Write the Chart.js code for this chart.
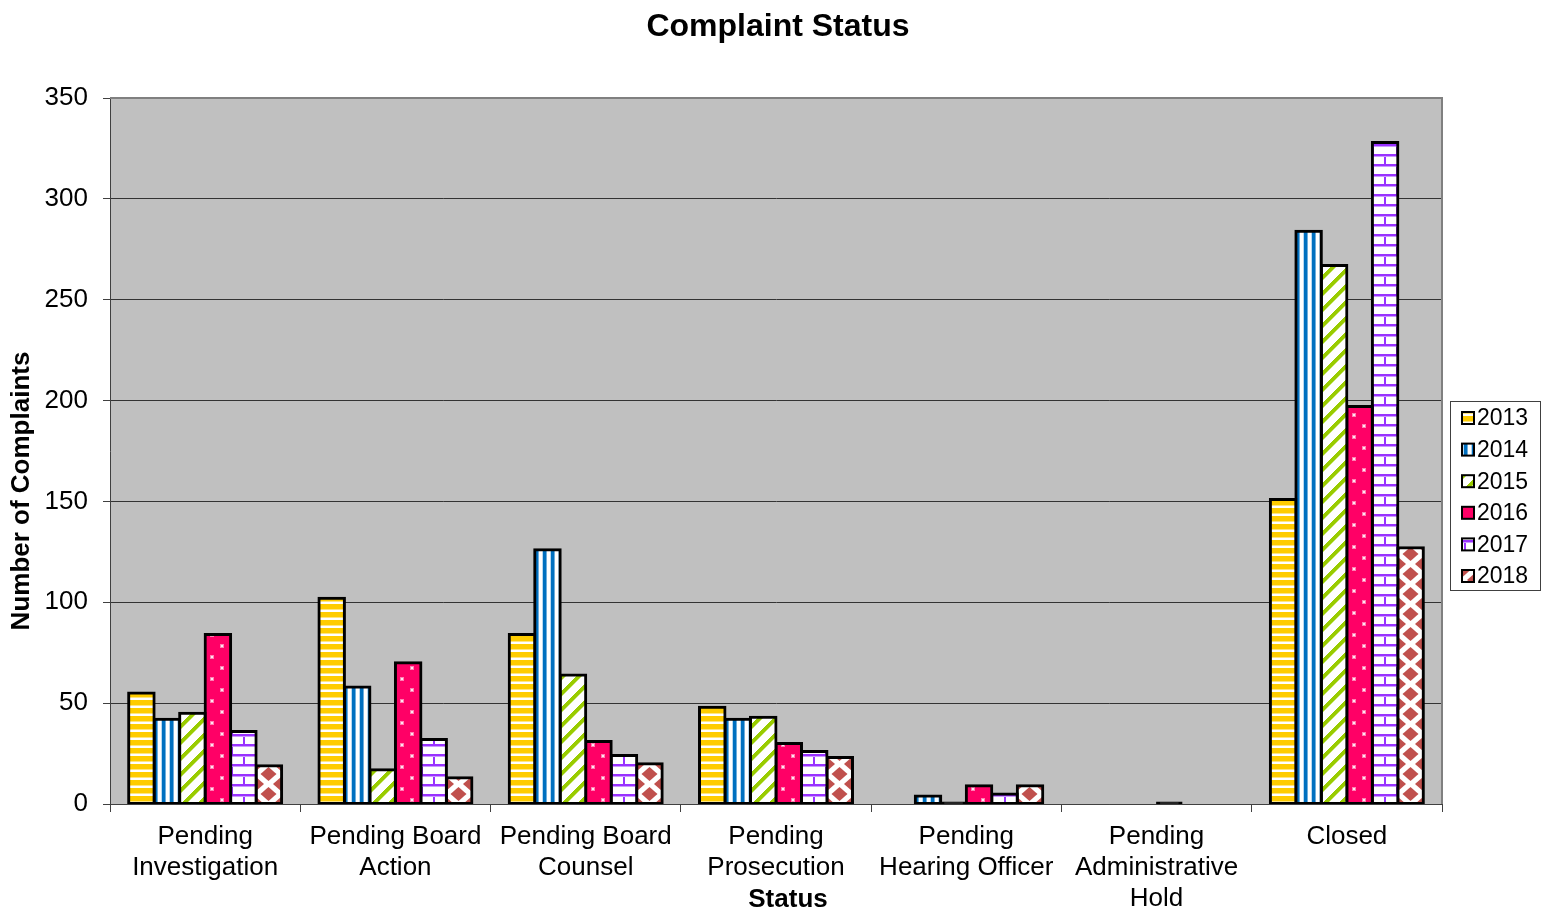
<!DOCTYPE html>
<html>
<head>
<meta charset="utf-8">
<title>Complaint Status</title>
<script src="https://cdn.jsdelivr.net/npm/chart.js@4"></script>
<style>
  html, body { margin: 0; padding: 0; background: #fff; }
  canvas { display: block; }
</style>
</head>
<body>
<canvas id="statusChart" width="1548" height="913"></canvas>
<script>
// Chart data
const categories = [
  ["Pending", "Investigation"],
  ["Pending Board", "Action"],
  ["Pending Board", "Counsel"],
  ["Pending", "Prosecution"],
  ["Pending", "Hearing Officer"],
  ["Pending", "Administrative", "Hold"],
  "Closed"
];
const years = ["2013", "2014", "2015", "2016", "2017", "2018"];
const values2013 = [55, 102, 84, 48, 0, 0, 151];
const values2014 = [42, 58, 126, 42, 4, 0, 284];
const values2015 = [45, 17, 64, 43, 1, 0, 267];
const values2016 = [84, 70, 31, 30, 9, 1, 197];
const values2017 = [36, 32, 24, 26, 5, 0, 328];
const values2018 = [19, 13, 20, 23, 9, 0, 127];
const yTicks = [0, 50, 100, 150, 200, 250, 300, 350];

const FONT = "'Liberation Sans', Arial, sans-serif";
Chart.defaults.font.family = FONT;
Chart.defaults.color = "#000";

const CAT_PCT = 0.804;

// Small canvases used as fill patterns
function makeTile(w, h, draw) {
    const c = document.createElement("canvas");
    c.width = w;
    c.height = h;
    const g = c.getContext("2d");
    g.fillStyle = "#fff";
    g.fillRect(0, 0, w, h);
    draw(g, w, h);
    return c;
}

const tiles = [
    // 2013 - yellow horizontal stripes
    makeTile(8, 8, (g) => {
        g.fillStyle = "#FFCC00";
        g.fillRect(0, 0, 8, 5);
        g.fillStyle = "#FFE680";
        g.fillRect(0, 5, 8, 1);
    }),
    // 2014 - blue vertical stripes
    makeTile(8, 8, (g) => {
        g.fillStyle = "#0070C0";
        g.fillRect(0, 0, 3, 8);
        g.fillStyle = "#6FAEDC";
        g.fillRect(3, 0, 1, 8);
        g.fillStyle = "#B8D8F0";
        g.fillRect(7, 0, 1, 8);
    }),
    // 2015 - green diagonal stripes
    makeTile(16, 16, (g) => {
        for (let y = 0; y < 16; y++) {
            for (let x = 0; x < 16; x++) {
                const d = (x + y) % 16;
                if (d < 5) {
                    g.fillStyle = "#99CC00";
                    g.fillRect(x, y, 1, 1);
                } else if (d === 5) {
                    g.fillStyle = "#CCE680";
                    g.fillRect(x, y, 1, 1);
                }
            }
        }
    }),
    // 2016 - crimson with small dots
    makeTile(21, 22, (g) => {
        g.fillStyle = "#FF0066";
        g.fillRect(0, 0, 21, 22);
        g.fillStyle = "#FF80B3";
        g.fillRect(5, 5, 4, 4);
        g.fillRect(15, 16, 4, 4);
        g.fillStyle = "#FFE6F0";
        g.fillRect(6, 6, 2, 2);
        g.fillRect(16, 17, 2, 2);
    }),
    // 2017 - purple bricks
    makeTile(24, 20, (g) => {
        g.fillStyle = "#9933FF";
        g.fillRect(0, 0, 24, 2);
        g.fillRect(0, 10, 24, 2);
        g.fillRect(0, 0, 2, 10);
        g.fillRect(12, 10, 2, 10);
        g.fillStyle = "#CC99FF";
        g.fillRect(0, 2, 24, 1);
        g.fillRect(0, 12, 24, 1);
    }),
    // 2018 - red diamonds
    makeTile(25, 20, (g) => {
        g.fillStyle = "#C0504D";
        const diamond = (cx, cy) => {
            g.beginPath();
            g.moveTo(cx, cy - 7);
            g.lineTo(cx + 8, cy);
            g.lineTo(cx, cy + 7);
            g.lineTo(cx - 8, cy);
            g.closePath();
            g.fill();
        };
        [[0, 0], [25, 0], [0, 20], [25, 20], [12.5, 10]].forEach(([x, y]) => diamond(x, y));
    })
];

const ctx = document.getElementById("statusChart").getContext("2d");
const patterns = tiles.map((t) => ctx.createPattern(t, "repeat"));
const seriesValues = [values2013, values2014, values2015, values2016, values2017, values2018];

// pattern shifted so it starts at the left edge of each bar
function barPattern(c, i) {
    if (c.raw !== undefined && c.raw > 0 && c.raw <= 1) return "#000"; // tiny bars read as solid outline
    const chart = c.chart;
    const xScale = chart.scales && chart.scales.x;
    if (c.dataIndex === undefined || !xScale || !chart.chartArea) return patterns[i];
    const area = chart.chartArea;
    const catW = (area.right - area.left) / categories.length;
    const barW = catW * CAT_PCT / years.length;
    const left = xScale.getPixelForValue(c.dataIndex) - barW * years.length / 2 + i * barW;
    const p = chart.ctx.createPattern(tiles[i], "repeat");
    p.setTransform(new DOMMatrix().translate(Math.round(left), area.bottom));
    return p;
}

// Background, border, titles and legend box
const chartDecor = {
    id: "chartDecor",
    beforeDraw(chart) {
        const c = chart.ctx;
        const a = chart.chartArea;
        c.save();
        c.fillStyle = "#fff";
        c.fillRect(0, 0, chart.width, chart.height);
        c.fillStyle = "#C0C0C0";
        c.fillRect(a.left, a.top, a.right - a.left, a.bottom - a.top);
        c.restore();
    },
    afterDraw(chart) {
        const c = chart.ctx;
        const a = chart.chartArea;
        c.save();
        // plot border on top and right
        c.strokeStyle = "#808080";
        c.lineWidth = 2;
        c.beginPath();
        c.moveTo(a.left, a.top);
        c.lineTo(a.right, a.top);
        c.lineTo(a.right, a.bottom);
        c.stroke();

        // titles
        c.fillStyle = "#000";
        c.textAlign = "center";
        c.textBaseline = "middle";
        c.font = "bold 32px " + FONT;
        c.fillText("Complaint Status", 778, 27);
        c.font = "bold 26px " + FONT;
        c.fillText("Status", 788, 900);
        c.translate(22, 491);
        c.rotate(-Math.PI / 2);
        c.fillText("Number of Complaints", 0, 0);
        c.setTransform(1, 0, 0, 1, 0, 0);

        // legend
        c.fillStyle = "#fff";
        c.fillRect(1450, 401, 90, 189);
        c.strokeStyle = "#404040";
        c.lineWidth = 1;
        c.strokeRect(1450.5, 401.5, 90, 189);
        c.font = "23px " + FONT;
        c.textAlign = "left";
        years.forEach((yr, i) => {
            const cy = 418 + i * 31.6;
            c.fillStyle = patterns[i];
            c.fillRect(1462, cy - 6, 12, 12);
            c.strokeStyle = "#000";
            c.lineWidth = 2;
            c.strokeRect(1462, cy - 6, 12, 12);
            c.fillStyle = "#000";
            c.fillText(yr, 1477, cy + 1);
        });
        c.restore();
    }
};

new Chart(ctx, {
    type: "bar",
    data: {
        labels: categories,
        datasets: years.map((yr, i) => ({
            label: yr,
            data: seriesValues[i],
            backgroundColor: (c) => barPattern(c, i),
            borderColor: "#000",
            borderWidth: 3,
            borderSkipped: false,
            inflateAmount: (c) => (c.raw === 0 ? 0 : c.raw <= 1 ? 0.5 : 1.5),
            barPercentage: 1,
            categoryPercentage: CAT_PCT
        }))
    },
    options: {
        responsive: false,
        animation: false,
        layout: {
            padding: { top: 98, right: 106, left: 0, bottom: 0 }
        },
        plugins: {
            legend: { display: false },
            title: { display: false },
            tooltip: { enabled: false }
        },
        scales: {
            x: {
                afterFit: (scale) => { scale.height = 109; },
                grid: {
                    offset: true,
                    drawOnChartArea: false,
                    tickLength: 8,
                    tickColor: "#404040"
                },
                border: { color: "#404040", width: 1 },
                ticks: {
                    autoSkip: false,
                    maxRotation: 0,
                    minRotation: 0,
                    padding: 9,
                    font: { size: 26, lineHeight: 1.2 },
                    color: "#000"
                }
            },
            y: {
                min: 0,
                max: 350,
                afterFit: (scale) => { scale.width = 110; },
                afterBuildTicks: (scale) => {
                    scale.ticks = yTicks.map((v) => ({ value: v }));
                },
                grid: {
                    color: (c) => (c.tick && c.tick.value === 350 ? "rgba(0,0,0,0)" : "#333"),
                    tickColor: "#404040",
                    tickLength: 7,
                    lineWidth: 1
                },
                border: { color: "#404040", width: 1 },
                ticks: {
                    padding: 15,
                    font: { size: 26 },
                    color: "#000"
                }
            }
        }
    },
    plugins: [chartDecor]
});
</script>
</body>
</html>
